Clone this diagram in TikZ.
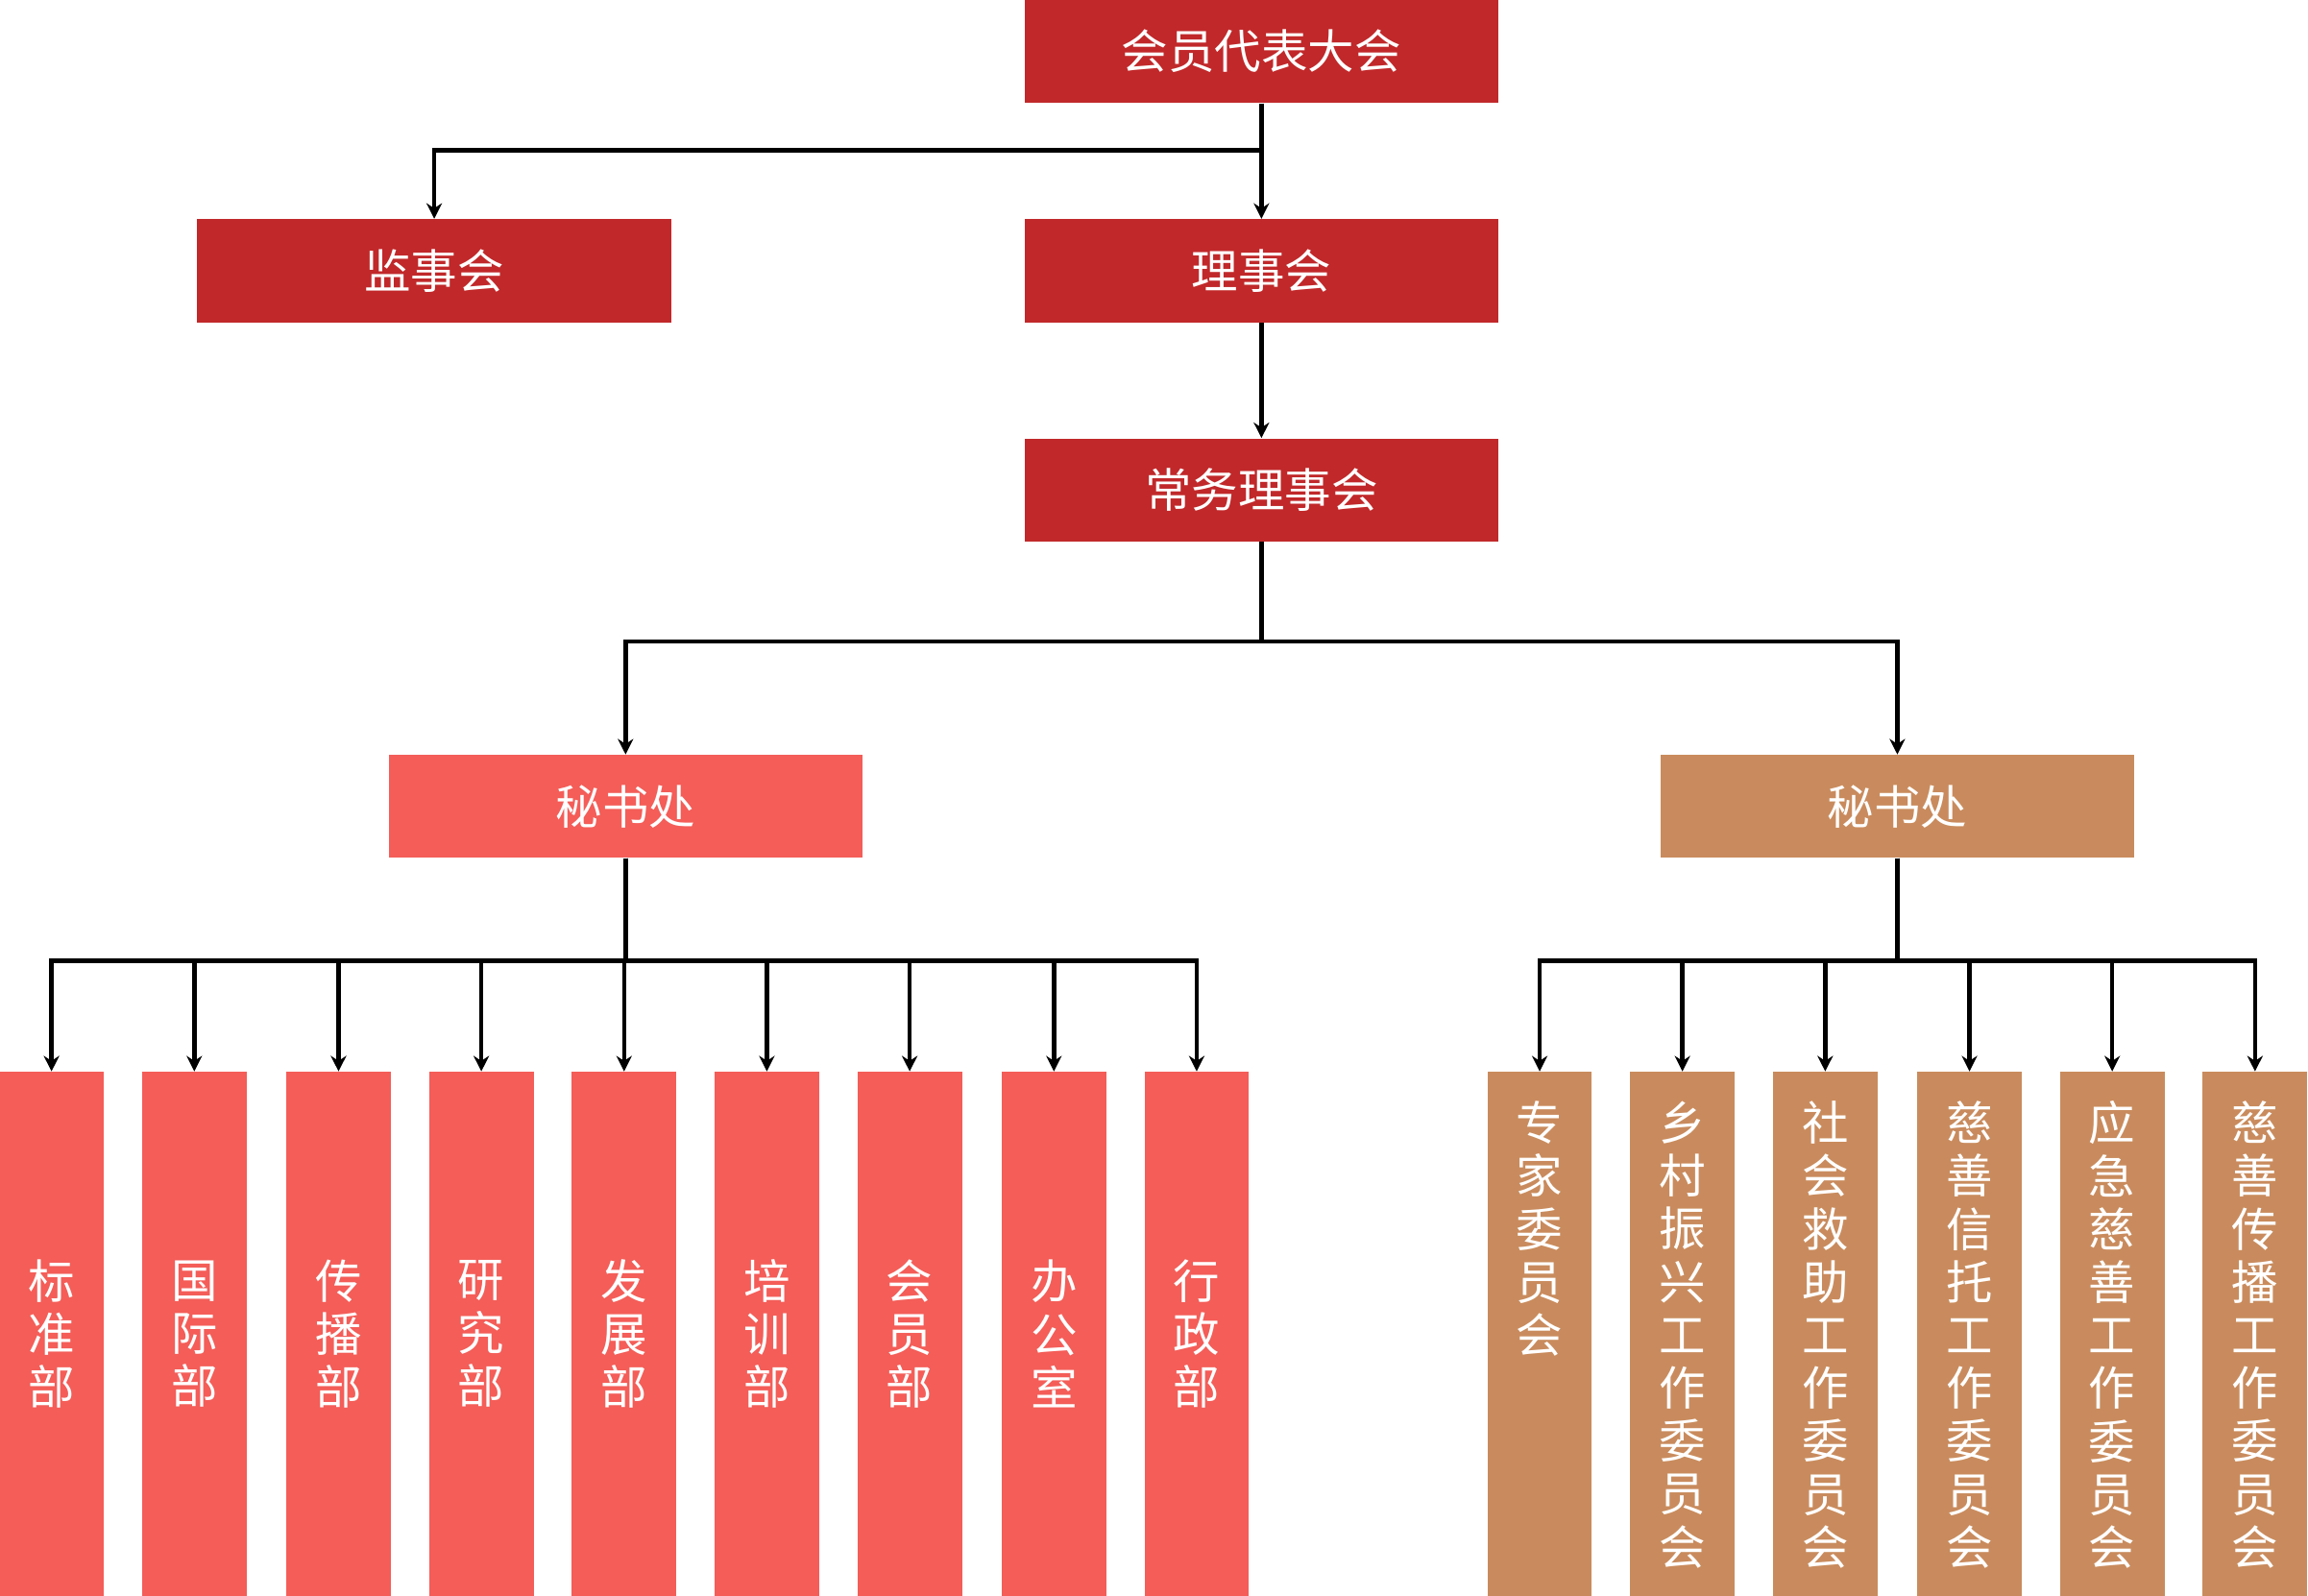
\documentclass[tikz,border=0pt]{standalone}
\usepackage{fontspec}
\setmainfont{Noto Sans CJK SC}
\usetikzlibrary{arrows.meta, positioning}
\definecolor{orgred}{HTML}{C1282A}
\definecolor{orgcoral}{HTML}{F45D58}
\definecolor{orgtan}{HTML}{C98B5D}
\begin{document}
\begin{tikzpicture}[x=0.02cm, y=-0.02cm]
				\tikzset{
					box/.style={fill=#1, text=white, minimum width=6.44cm, minimum height=1.4cm, inner sep=0, font=\fontsize{18}{20}\selectfont},
					col/.style={fill=#1, text=white, minimum width=1.42cm, minimum height=7.12cm, inner sep=0, anchor=north},
					vtext/.style={text=white, align=center, inner sep=0, font=\fontsize{18}{20.5}\selectfont},
					conn/.style={line width=1.7pt, -{Stealth[length=6pt,width=6pt]}},
					wire/.style={line width=1.7pt}
				}
				\useasboundingbox (0,0) rectangle (1568,1084);
				\node[box=orgred] (top) at (857,35) {会员代表大会};
				\node[box=orgred] (sup) at (295,184) {监事会};
				\node[box=orgred] (board) at (857,184) {理事会};
				\node[box=orgred] (exec) at (857,333) {常务理事会};
				\node[box=orgcoral] (secl) at (425,548) {秘书处};
				\node[box=orgtan] (secr) at (1289,548) {秘书处};
				
				\draw[conn] (top.south) -- (board.north);
				\draw[conn] (top.south) |- (857,102) -| (sup.north);
				\draw[conn] (board.south) -- (exec.north);
				\draw[wire] (exec.south) -- (857,436);
				\draw[conn] (857,436) -| (secl.north);
				\draw[conn] (857,436) -| (secr.north);
				
				% left departments
				\foreach \x/\t [count=\i] in {35/标\\准\\部, 132/国\\际\\部, 230/传\\播\\部, 327/研\\究\\部, 424/发\\展\\部, 521/培\\训\\部, 618/会\\员\\部, 716/办\\公\\室, 813/行\\政\\部}{
					\node[col=orgcoral] (l\i) at (\x,728) {};
					\node[vtext] (lt\i) at (l\i) {\t};
					\draw[conn] (secl.south) |- (\x,653) -- (l\i.north);
				}
				
				% right committees
				\foreach \x/\t [count=\i] in {1046/专\\家\\委\\员\\会, 1143/乡\\村\\振\\兴\\工\\作\\委\\员\\会, 1240/社\\会\\救\\助\\工\\作\\委\\员\\会, 1338/慈\\善\\信\\托\\工\\作\\委\\员\\会, 1435/应\\急\\慈\\善\\工\\作\\委\\员\\会, 1532/慈\\善\\传\\播\\工\\作\\委\\员\\会}{
					\node[col=orgtan] (r\i) at (\x,728) {};
					\node[vtext, anchor=north] (rt\i) at (\x,748) {\t};
					\draw[conn] (secr.south) |- (\x,653) -- (r\i.north);
				}
				\end{tikzpicture}
\end{document}
